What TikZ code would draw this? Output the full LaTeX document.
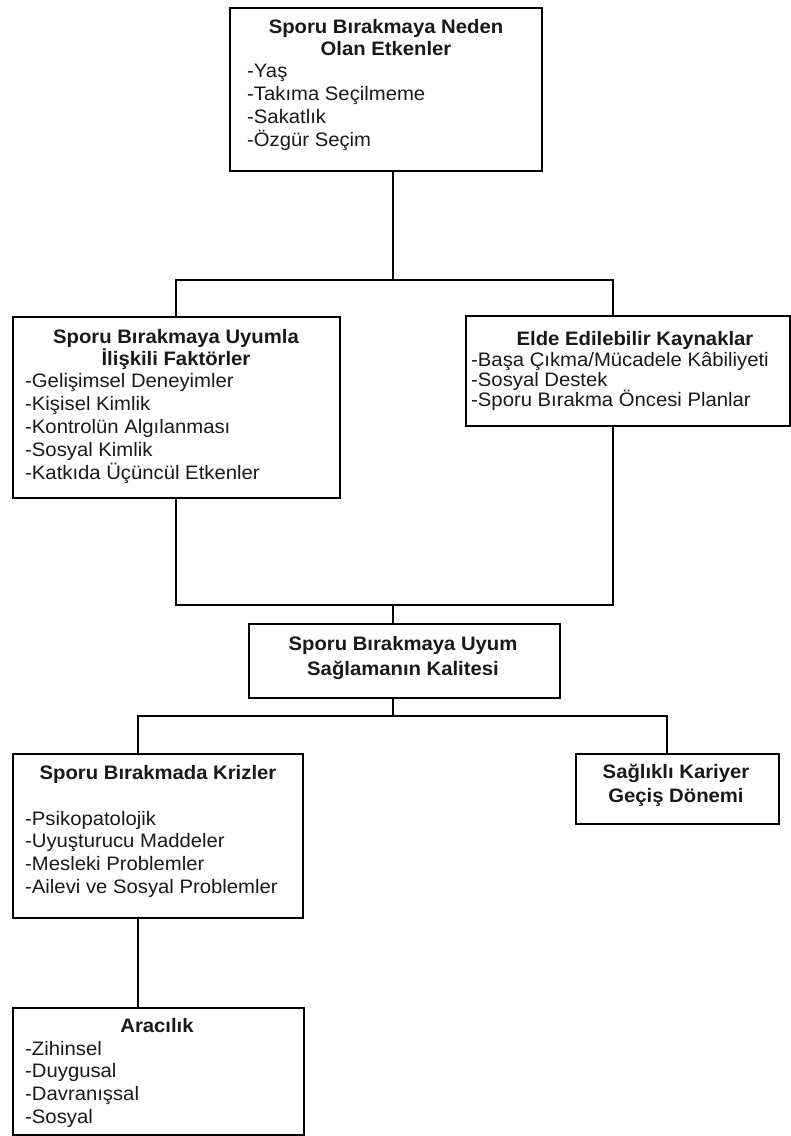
\documentclass[tikz,border=0pt]{standalone}
\usepackage{fontspec}
\setmainfont{Liberation Sans}[FakeStretch=1.04]
\newcommand\leftstack[2]{\vtop{\baselineskip=#1\lineskiplimit=-100pt\lineskip=0pt\halign{##\hfil\cr#2\crcr}}}
\newcommand\centerstack[2]{\vtop{\baselineskip=#1\lineskiplimit=-100pt\lineskip=0pt\halign{\hfil##\hfil\cr#2\crcr}}}
\begin{document}
\begin{tikzpicture}[x=1pt,y=-1pt,
  box/.style={draw=black, line width=1.8pt, fill=white, inner sep=0pt, anchor=north west},
  txt/.style={inner sep=0pt, font=\fontsize{19.5}{23}\selectfont, text=black!90},
  ttl/.style={txt, font=\fontsize{19.5}{23}\selectfont\bfseries},
  conn/.style={draw=black, line width=1.8pt, line join=miter}]
\useasboundingbox[fill=white] (0,0) rectangle (791,1136);

% boxes
\node[box, minimum width=312pt, minimum height=163pt] (n1) at (229,7) {};
\node[box, minimum width=327pt, minimum height=181pt] (n2) at (12,316) {};
\node[box, minimum width=324pt, minimum height=110pt] (n3) at (465,315) {};
\node[box, minimum width=311pt, minimum height=74pt] (n4) at (248,623) {};
\node[box, minimum width=290pt, minimum height=164pt] (n5) at (12,753) {};
\node[box, minimum width=203pt, minimum height=70pt] (n6) at (575,753) {};
\node[box, minimum width=291pt, minimum height=127pt] (n7) at (12,1007) {};

% texts
\node[ttl, anchor=base] (t1) at (386,33) {\centerstack{22pt}{Sporu Bırakmaya Neden\cr Olan Etkenler}};
\node[txt, anchor=base west] (l1) at (247,77) {\leftstack{23.3pt}{-Yaş\cr -Takıma Seçilmeme\cr -Sakatlık\cr -Özgür Seçim}};

\node[ttl, anchor=base] (t2) at (176,343) {\centerstack{22pt}{Sporu Bırakmaya Uyumla\cr İlişkili Faktörler}};
\node[txt, anchor=base west] (l2) at (25,387) {\leftstack{23.2pt}{-Gelişimsel Deneyimler\cr -Kişisel Kimlik\cr -Kontrolün Algılanması\cr -Sosyal Kimlik\cr -Katkıda Üçüncül Etkenler}};

\node[ttl, anchor=base] (t3) at (635,345) {Elde Edilebilir Kaynaklar};
\node[txt, anchor=base west] (l3) at (471,366) {\leftstack{20.3pt}{-Başa Çıkma/Mücadele Kâbiliyeti\cr -Sosyal Destek\cr -Sporu Bırakma Öncesi Planlar}};

\node[ttl, anchor=base] (t4) at (403,650) {\centerstack{25pt}{Sporu Bırakmaya Uyum\cr Sağlamanın Kalitesi}};

\node[ttl, anchor=base] (t5) at (158,779) {Sporu Bırakmada Krizler};
\node[txt, anchor=base west] (l5) at (25,825) {\leftstack{22.7pt}{-Psikopatolojik\cr -Uyuşturucu Maddeler\cr -Mesleki Problemler\cr -Ailevi ve Sosyal Problemler}};

\node[ttl, anchor=base] (t6) at (676,778) {\centerstack{24pt}{Sağlıklı Kariyer\cr Geçiş Dönemi}};

\node[ttl, anchor=base] (t7) at (157,1032) {Aracılık};
\node[txt, anchor=base west] (l7) at (25,1055) {\leftstack{22.7pt}{-Zihinsel\cr -Duygusal\cr -Davranışsal\cr -Sosyal}};

% junctions
\coordinate (j1) at (393,280);
\coordinate (a1) at (176,280);
\coordinate (a2) at (613,280);
\coordinate (j2) at (393,605);
\coordinate (b1) at (176,605);
\coordinate (b2) at (613,605);
\coordinate (j3) at (393,716);
\coordinate (c1) at (138,716);
\coordinate (c2) at (667,716);

% connectors
\draw[conn] (j1 |- n1.south) -- (j1);
\draw[conn] (a1 |- n2.north) -- (a1) -- (a2) -- (a2 |- n3.north);
\draw[conn] (b1 |- n2.south) -- (b1) -- (b2) -- (b2 |- n3.south);
\draw[conn] (j2) -- (j2 |- n4.north);
\draw[conn] (j3 |- n4.south) -- (j3);
\draw[conn] (c1 |- n5.north) -- (c1) -- (c2) -- (c2 |- n6.north);
\draw[conn] (c1 |- n5.south) -- (c1 |- n7.north);
\end{tikzpicture}
\end{document}
